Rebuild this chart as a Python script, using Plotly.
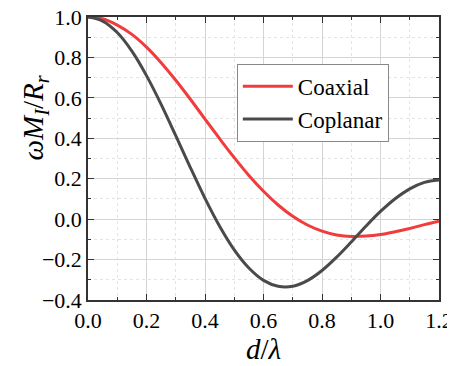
import plotly.graph_objects as go

# d/lambda sample positions
d_values = [0.0, 0.05, 0.1, 0.15, 0.2, 0.25, 0.3, 0.35, 0.4, 0.45, 0.5, 0.55, 0.6,
            0.65, 0.7, 0.75, 0.8, 0.85, 0.9, 0.95, 1.0, 1.05, 1.1, 1.15, 1.2]

coaxial = [1.0, 0.991, 0.960, 0.914, 0.851, 0.774, 0.687, 0.593, 0.495, 0.398, 0.304,
           0.216, 0.138, 0.070, 0.014, -0.029, -0.059, -0.078, -0.086, -0.084, -0.076,
           -0.062, -0.046, -0.027, -0.010]

coplanar = [1.0, 0.980, 0.923, 0.831, 0.710, 0.568, 0.413, 0.255, 0.103, -0.035, -0.152,
            -0.242, -0.303, -0.332, -0.332, -0.304, -0.254, -0.188, -0.113, -0.035, 0.038,
            0.101, 0.150, 0.182, 0.194]

x_ticks = [0.0, 0.2, 0.4, 0.6, 0.8, 1.0, 1.2]
y_ticks = [-0.4, -0.2, 0.0, 0.2, 0.4, 0.6, 0.8, 1.0]

FONT = "Liberation Serif"

fig = go.Figure()
fig.add_trace(go.Scatter(x=d_values, y=coaxial, mode="lines", name="Coaxial",
                         line=dict(color="#f03c3c", width=3, shape="spline")))
fig.add_trace(go.Scatter(x=d_values, y=coplanar, mode="lines", name="Coplanar",
                         line=dict(color="#4a4a4a", width=3, shape="spline")))

axis_common = dict(
    showline=True, linecolor="#333333", linewidth=1.5, mirror="allticks",
    ticks="inside", ticklen=6, tickwidth=1.2, tickcolor="#333333",
    showgrid=True, gridcolor="#d4d4d4", gridwidth=1,
    zeroline=False, automargin=False, ticklabeloverflow="allow",
    tickfont=dict(family=FONT, size=22, color="black"),
    minor=dict(ticks="inside", ticklen=3, tickwidth=1, tickcolor="#333333",
               showgrid=True, gridcolor="#e4e4e4", griddash="dot", gridwidth=1),
)

fig.update_xaxes(range=[0, 1.2], tickvals=x_ticks, tickformat=".1f",
                 minor_dtick=0.1,
                 title=dict(text="<i>d</i>/<i>λ</i>", font=dict(family=FONT, size=29, color="black"),
                            standoff=2),
                 **axis_common)
fig.update_yaxes(range=[-0.4, 1.0], tickvals=y_ticks, tickformat=".1f",
                 minor_dtick=0.1,
                 **axis_common)

fig.add_annotation(text="<i>ωM<sub>I</sub></i>/<i>R<sub>r</sub></i>",
                   xref="paper", yref="paper", x=-0.151, y=0.645,
                   xanchor="center", yanchor="middle", textangle=-90, showarrow=False,
                   font=dict(family=FONT, size=29, color="black"))

fig.update_layout(
    width=447, height=358,
    margin=dict(l=80, r=16, t=9, b=66),
    paper_bgcolor="white", plot_bgcolor="white",
    font=dict(family=FONT, color="black"),
    showlegend=True,
    legend=dict(x=0.424, y=0.835, xanchor="left", yanchor="top",
                bgcolor="white", bordercolor="#888888", borderwidth=1,
                font=dict(family=FONT, size=23, color="black"),
                itemwidth=50, tracegroupgap=0),
)

fig.write_html("out.html")
